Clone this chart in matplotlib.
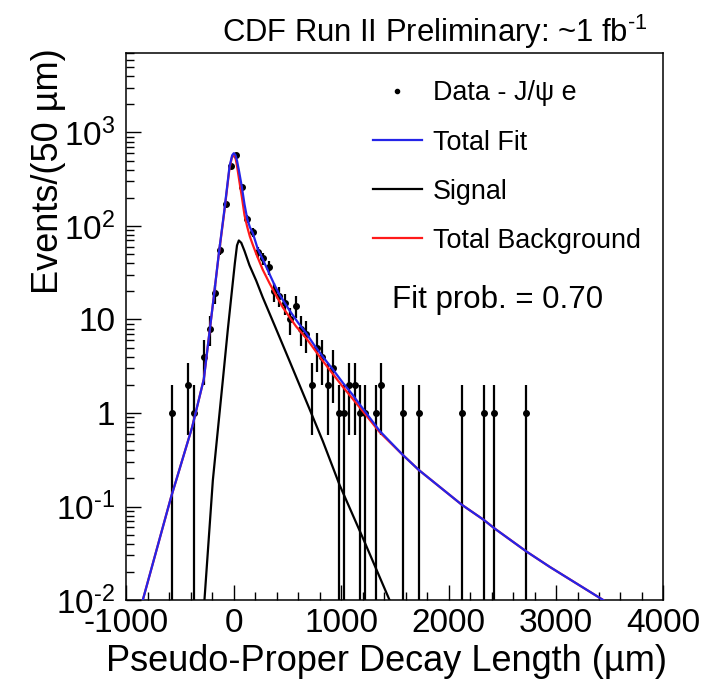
import numpy as np
import matplotlib
matplotlib.use("Agg")
import matplotlib.pyplot as plt
from matplotlib.ticker import MultipleLocator, LogLocator, FixedLocator, FixedFormatter, NullFormatter

# --- Data (50 um bins) ---
data_x = [-575, -425, -375, -275, -225, -175, -125, -75, -25, 25, 75, 125, 175, 225, 275,
          325, 375, 425, 475, 525, 575, 625, 675, 725, 775, 825, 875, 925, 975, 1025,
          1075, 1125, 1175, 1225, 1325, 1375, 1575, 1725, 2125, 2325, 2425, 2725]
data_n = [1, 2, 1, 4, 8, 19, 56, 170, 440, 570, 262, 120, 86, 53, 45,
          36, 20, 18, 15, 10, 14, 8, 7, 2, 5, 4, 2, 3, 1, 1,
          2, 2, 1, 1, 1, 2, 1, 1, 1, 1, 1, 1]

# total fit (blue)
fit_x = [-847, -583, -536, -387, -279, -233, -186, -140, -87, -40, -15, 0, 15, 30, 50,
         75, 100, 125, 150, 177, 225, 270, 325, 375, 425, 475, 519, 600, 675, 750,
         829, 925, 1016, 1100, 1200, 1360, 1575, 1724, 2125, 2327, 2430, 2725, 2942, 3439]
fit_y = [0.01, 0.127, 0.191, 0.71, 2.3, 6.3, 17.5, 50, 150, 430, 570, 600, 575, 500, 380,
         262, 170, 120, 97, 84, 56, 44, 32, 24, 18.5, 15, 12.5, 9.2, 7.1, 5.3,
         4.0, 2.9, 2.1, 1.6, 1.12, 0.64, 0.355, 0.245, 0.104, 0.072, 0.058, 0.033, 0.0226, 0.01]

# total background (red)
bkg_x = [-847, -583, -536, -387, -279, -233, -186, -140, -87, -40, -15, 0, 15, 30, 53,
         75, 100, 125, 150, 177, 210, 270, 332, 395, 456, 519, 581, 675, 829, 1016,
         1200, 1360, 1575, 1724, 2125, 2327, 2430, 2725, 2942, 3439]
bkg_y = [0.01, 0.127, 0.191, 0.71, 2.3, 6.3, 17.5, 49, 145, 415, 555, 580, 540, 440, 295,
         205, 130, 98, 77, 63, 50, 34, 24.5, 18, 13.5, 10.6, 8.4, 6.3, 3.6, 1.9,
         1.05, 0.62, 0.355, 0.245, 0.104, 0.072, 0.058, 0.033, 0.0226, 0.01]

# signal (black)
sig_x = [-273, -195, -158, -102, -56, -20, 10, 30, 47, 70, 100, 146, 209, 270,
         379, 519, 700, 829, 985, 1202, 1450]
sig_y = [0.01, 0.19, 0.51, 2.24, 7.7, 19, 40, 62, 70, 66, 54, 38, 26, 17.2,
         8.7, 3.6, 1.14, 0.5, 0.17, 0.046, 0.01]

ytick_vals = [1e-2, 1e-1, 1, 10, 100, 1000]
ytick_labels = [r"$10^{\text{-2}}$", r"$10^{\text{-1}}$", "1", "10", "$10^{2}$", "$10^{3}$"]

FONT = "Liberation Sans"
BLUE = "#2424e8"
RED = "#ff1a1a"


def main():
    plt.rcParams["font.family"] = [FONT, "DejaVu Sans"]
    plt.rcParams["mathtext.fontset"] = "custom"
    plt.rcParams["mathtext.rm"] = FONT
    plt.rcParams["mathtext.it"] = FONT
    plt.rcParams["mathtext.default"] = "regular"
    plt.rcParams["axes.unicode_minus"] = False

    fig = plt.figure(figsize=(7.18, 6.82), dpi=100)
    ax = fig.add_axes([0.176, 0.1202, 0.748, 0.8021])

    x = np.array(data_x, dtype=float)
    n = np.array(data_n, dtype=float)
    err = np.sqrt(n)  # Poisson errors
    lo = np.minimum(err, n - 1e-5)

    ax.errorbar(x, n, yerr=[lo, err], fmt="o", color="black", markersize=4,
                elinewidth=1.6, capsize=0, zorder=2)
    ax.plot(sig_x, sig_y, color="black", lw=1.6, zorder=3)
    ax.plot(bkg_x, bkg_y, color=RED, lw=1.6, zorder=4)
    ax.plot(fit_x, fit_y, color=BLUE, lw=1.6, zorder=5)

    ax.set_yscale("log")
    ax.set_xlim(-1000, 4000)
    ax.set_ylim(0.01, 7080)

    ax.xaxis.set_major_locator(MultipleLocator(1000))
    ax.xaxis.set_minor_locator(MultipleLocator(200))
    ax.yaxis.set_major_locator(FixedLocator(ytick_vals))
    ax.yaxis.set_major_formatter(FixedFormatter(ytick_labels))
    ax.yaxis.set_minor_locator(LogLocator(base=10, subs=np.arange(2, 10)))
    ax.yaxis.set_minor_formatter(NullFormatter())

    ax.tick_params(which="both", direction="in", top=False, right=False,
                   labelsize=24, width=1.0)
    ax.tick_params(which="major", length=11)
    ax.tick_params(which="minor", length=5.5)
    ax.tick_params(axis="x", pad=6)
    ax.tick_params(axis="y", pad=8)
    for sp in ax.spines.values():
        sp.set_linewidth(1.1)

    ax.set_xlabel("Pseudo-Proper Decay Length (\u00b5m)", fontsize=26, loc="right")
    ax.set_ylabel("Events/(50 \u00b5m)", fontsize=26, loc="top")
    ax.xaxis.set_label_coords(1.006, -0.08)
    ax.yaxis.set_label_coords(-0.112, 1.008)

    ax.plot([], [], "o", color="black", markersize=3, label="Data - J/\u03c8 e")
    ax.plot([], [], color=BLUE, lw=1.6, label="Total Fit")
    ax.plot([], [], color="black", lw=1.6, label="Signal")
    ax.plot([], [], color=RED, lw=1.6, label="Total Background")
    handles, labels = ax.get_legend_handles_labels()
    ax.legend(handles[-4:], labels[-4:], loc="upper left", bbox_to_anchor=(0.459, 0.95),
              frameon=False, fontsize=19.4, handlelength=1.82, handletextpad=0.41,
              labelspacing=0.86, borderpad=0, borderaxespad=0)

    ax.text(0.494, 0.548, "Fit prob. = 0.70", transform=ax.transAxes,
            fontsize=22.5, va="center", ha="left")

    fig.text(222 / 718, 1 - 42 / 682, r"CDF Run II Preliminary: ~1 fb$^{\text{-1}}$",
             fontsize=22.3, va="baseline", ha="left")

    fig.savefig("out.png", dpi=100)


if __name__ == "__main__":
    main()
